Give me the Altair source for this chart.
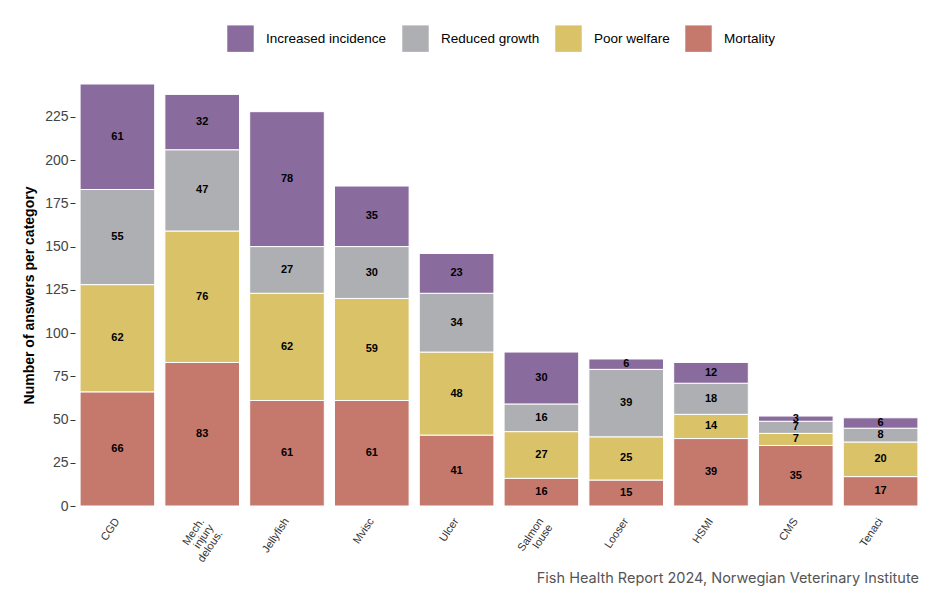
import altair as alt
import pandas as pd

categories = ["CGD", "Mech.\ninjury\ndelous.", "Jellyfish", "Mvisc", "Ulcer",
              "Salmon\nlouse", "Looser", "HSMI", "CMS", "Tenaci"]
mortality = [66, 83, 61, 61, 41, 16, 15, 39, 35, 17]
poor_welfare = [62, 76, 62, 59, 48, 27, 25, 14, 7, 20]
reduced_growth = [55, 47, 27, 30, 34, 16, 39, 18, 7, 8]
increased_incidence = [61, 32, 78, 35, 23, 30, 6, 12, 3, 6]

series = ["Increased incidence", "Reduced growth", "Poor welfare", "Mortality"]
colors = ["#896B9D", "#AEAFB2", "#DAC268", "#C5786C"]

rows = []
for i, c in enumerate(categories):
    for s, vals, order in [("Mortality", mortality, 0), ("Poor welfare", poor_welfare, 1),
                           ("Reduced growth", reduced_growth, 2),
                           ("Increased incidence", increased_incidence, 3)]:
        rows.append({"category": c, "series": s, "value": vals[i], "order": order})
df = pd.DataFrame(rows)

base = alt.Chart(df).encode(
    x=alt.X("category:N", sort=categories, title=None,
            scale=alt.Scale(paddingInner=0.12, paddingOuter=0.06),
            axis=alt.Axis(labelAngle=-56, labelAlign="right", labelBaseline="middle",
                          ticks=False, domain=False, labelFontSize=11,
                          labelColor="#333333", labelFont="Liberation Sans",
                          labelPadding=13, labelLineHeight=11,
                          labelExpr="split(datum.label, '\\n')")),
    y=alt.Y("sum(value):Q", stack="zero",
            scale=alt.Scale(domain=[0, 244], nice=False),
            title="Number of answers per category",
            axis=alt.Axis(values=[0, 25, 50, 75, 100, 125, 150, 175, 200, 225],
                          grid=False, domain=False, tickColor="#333333", tickSize=5,
                          labelFontSize=14, labelColor="#444444", labelFont="Liberation Sans",
                          titleFontSize=14, titleFont="Liberation Sans", titleFontWeight="bold",
                          titleColor="#000000", titlePadding=8)),
    order=alt.Order("order:Q", sort="ascending"),
)

bars = base.mark_bar(stroke="#ffffff", strokeWidth=1).encode(
    color=alt.Color("series:N", sort=series,
                    scale=alt.Scale(domain=series, range=colors),
                    legend=alt.Legend(title=None, orient="none", direction="horizontal",
                                      legendX=152, legendY=-59,
                                      symbolType="square", symbolSize=700,
                                      symbolStrokeWidth=0, symbolOpacity=1,
                                      labelFontSize=13.5, labelFont="Liberation Sans",
                                      labelColor="#000000", labelOffset=12,
                                      columnPadding=15)),
)

labels = base.mark_text(fontSize=11, fontWeight="bold", font="Liberation Sans",
                        color="#000000").encode(
    y=alt.Y("sum(value):Q", stack="zero", bandPosition=0.5),
    text=alt.Text("sum(value):Q"),
)

chart = alt.layer(bars, labels).properties(
    width=848, height=422,
    autosize=alt.AutoSizeParams(type="none"),
    padding={"left": 67, "top": 76, "right": 18, "bottom": 84},
    title=alt.TitleParams("Fish Health Report 2024, Norwegian Veterinary Institute",
                          orient="bottom", anchor="end", fontSize=14.5, font="Inter",
                          fontWeight="normal", color="#555555", offset=8, dx=-4),
).configure_view(stroke=None)

chart.save("out.html", embed_options={"renderer": "svg", "actions": False})
